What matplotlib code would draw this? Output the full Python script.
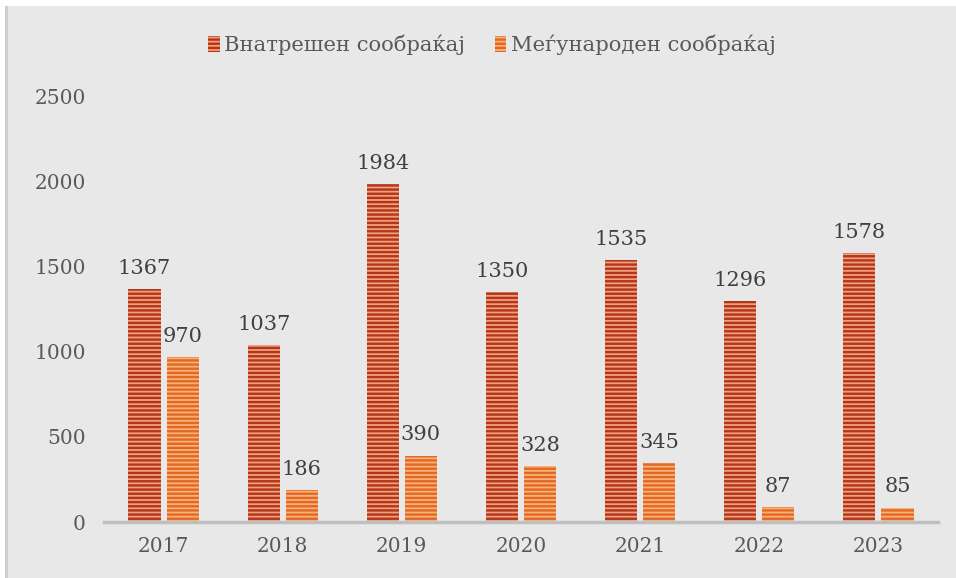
import numpy as np
import matplotlib.pyplot as plt
from matplotlib.patches import Rectangle

# Traffic data by year
years = ['2017', '2018', '2019', '2020', '2021', '2022', '2023']
domestic = [1367, 1037, 1984, 1350, 1535, 1296, 1578]
international = [970, 186, 390, 328, 345, 87, 85]

plt.rcParams['font.family'] = ['DejaVu Serif']
plt.rcParams['hatch.linewidth'] = 1.7
text_col = '#595959'
bg = '#e8e8e8'

fig = plt.figure(figsize=(9.56, 5.78), dpi=100, facecolor='white')
# grey panel with darker left edge
fig.patches.append(Rectangle((7 / 956, 0), 1, 1 - 6 / 578, transform=fig.transFigure,
                             facecolor=bg, edgecolor='none', zorder=-10))
fig.patches.append(Rectangle((5 / 956, 0), 3 / 956, 1 - 6 / 578, transform=fig.transFigure,
                             facecolor='#cfcfcf', edgecolor='none', zorder=-10))

ax = fig.add_axes([104 / 956, 56 / 578, 834 / 956, 426 / 578])
ax.set_zorder(1)
ax.set_facecolor(bg)

x = np.arange(len(years))
w = 0.27
gap = 0.025
b1 = ax.bar(x - w / 2 - gap, domestic, w, facecolor='#f0a07e', edgecolor='#b3361a',
            linewidth=0, hatch='----', label='Внатрешен сообраќај', zorder=2)
b2 = ax.bar(x + w / 2 + gap, international, w, facecolor='#f8b27a', edgecolor='#e26824',
            linewidth=0, hatch='----', label='Меѓународен сообраќај', zorder=2)

for bars, vals in ((b1, domestic), (b2, international)):
    for r, v in zip(bars, vals):
        ax.annotate(str(v), (r.get_x() + r.get_width() / 2, v), xytext=(0, 8),
                    textcoords='offset points', ha='center', va='bottom',
                    fontsize=15, color='#404040')

ax.set_xlim(-0.5, len(years) - 0.5)
ax.set_ylim(0, 2500)
ax.set_yticks([0, 500, 1000, 1500, 2000, 2500])
ax.set_xticks(x)
ax.set_xticklabels(years)
ax.tick_params(axis='both', length=0, labelsize=14.5, colors=text_col)
ax.tick_params(axis='y', pad=13)
ax.tick_params(axis='x', pad=11)

for s in ('top', 'right', 'left'):
    ax.spines[s].set_visible(False)
ax.spines['bottom'].set_color('#bfbfbf')
ax.spines['bottom'].set_linewidth(2.5)

leg = fig.legend(handles=[b1, b2], loc='center', bbox_to_anchor=(0.5 + 14 / 956, 1 - 45 / 578),
                 ncol=2, frameon=False, fontsize=15.2, handlelength=0.55, handleheight=0.85,
                 handletextpad=0.2, columnspacing=1.4)
for t in leg.get_texts():
    t.set_color(text_col)

fig.savefig('out.png', dpi=100, facecolor=fig.get_facecolor())
